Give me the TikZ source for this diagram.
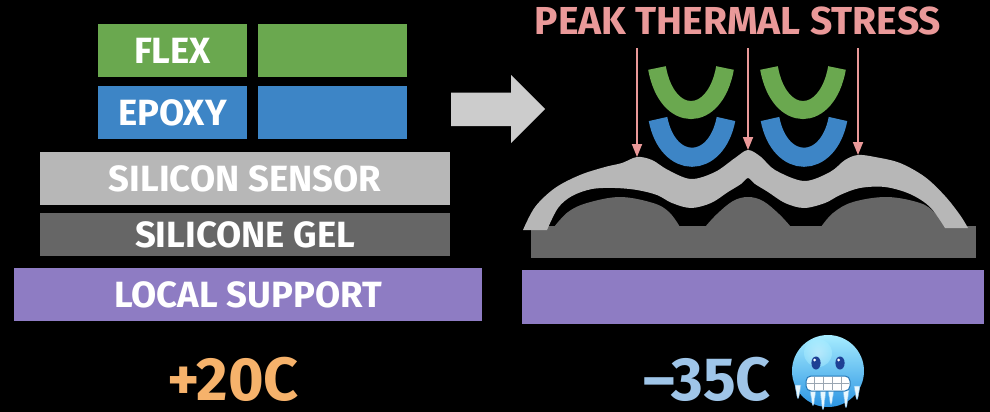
\documentclass[tikz,border=0pt]{standalone}
\usepackage{fontspec}
\setmainfont{Fira Sans}
\usetikzlibrary{arrows.meta}

\definecolor{flexgreen}{HTML}{6AA84F}
\definecolor{epoxyblue}{HTML}{3D85C6}
\definecolor{sensorgray}{HTML}{B7B7B7}
\definecolor{gelgray}{HTML}{666666}
\definecolor{supportpurple}{HTML}{8E7CC3}
\definecolor{arrowgray}{HTML}{CCCCCC}
\definecolor{stresspink}{HTML}{EA9999}
\definecolor{warmorange}{HTML}{F6B26B}
\definecolor{coldblue}{HTML}{9FC5E8}
\definecolor{facetop}{HTML}{A6ECFF}
\definecolor{facebottom}{HTML}{2C95E3}
\definecolor{eyeblue}{HTML}{1E3F94}
\definecolor{icewhite}{HTML}{E8F8FF}
\definecolor{toothline}{HTML}{9AA6B2}

\tikzset{
  layer/.style={draw=none, inner sep=0pt, text=white,
    font=\bfseries\fontsize{36.5}{36.5}\selectfont},
  stressarrow/.style={draw=stresspink, line width=1.8pt,
    -{Triangle[width=10pt,length=13pt]}},
  ucup/.style={line width=#1, line cap=butt},
  temp/.style={font=\bfseries\fontsize{61}{61}\selectfont, inner sep=0pt, anchor=base},
  icicle/.style={fill=icewhite, draw=facebottom!60, line width=0.5pt},
}

\begin{document}
\begin{tikzpicture}[x=1pt,y=-1pt]
  \fill[black] (0,0) rectangle (990,412);
  \useasboundingbox (0,0) rectangle (990,412);

  % ---------- stack at room temperature ----------
  \node[layer, fill=flexgreen, minimum width=149pt, minimum height=53pt] (flexA) at (172.5,50.5) {FLEX};
  \node[layer, fill=flexgreen, minimum width=149pt, minimum height=53pt] (flexB) at (332.5,50.5) {};
  \node[layer, fill=epoxyblue, minimum width=149pt, minimum height=53pt] (epoxyA) at (172.5,112.5) {EPOXY};
  \node[layer, fill=epoxyblue, minimum width=149pt, minimum height=53pt] (epoxyB) at (332.5,112.5) {};
  \node[layer, fill=sensorgray, minimum width=410pt, minimum height=53pt] (sensor) at (245,178.5) {SILICON SENSOR};
  \node[layer, fill=gelgray, minimum width=410pt, minimum height=43pt] (gel) at (245,234.5) {SILICONE GEL};
  \node[layer, fill=supportpurple, minimum width=468pt, minimum height=53pt] (support) at (248,294.5) {LOCAL SUPPORT};

  % ---------- block arrow ----------
  \fill[arrowgray] (451,92.5) -- (511,92.5) -- (511,75) -- (545,109) -- (511,143)
    -- (511,126) -- (451,126) -- cycle;

  % ---------- stack when cold ----------
  \node[layer, fill=supportpurple, minimum width=462pt, minimum height=54pt] (supportC) at (753,297) {};
  \node[layer, fill=gelgray, minimum width=445pt, minimum height=32pt] (gelC) at (753.5,242) {};

  % gel pushed up into bumps
  \fill[gelgray] plot[smooth, tension=0.6] coordinates {(554,227) (568,212) (587,203) (620,197) (653,203) (669,212) (680,227)} -- cycle;
  \fill[gelgray] plot[smooth, tension=0.6] coordinates {(705,227) (717,214) (733,201) (748,197) (763,201) (779,214) (791,227)} -- cycle;
  \fill[gelgray] plot[smooth, tension=0.6] coordinates {(821,227) (833,213) (853,202) (887,197) (920,203) (935,213) (945,227)} -- cycle;

  % warped sensor
  \fill[sensorgray]
    plot[smooth, tension=0.55] coordinates {(523,230) (535,207) (555,188) (580,175) (605,167) (622,163) (637,157)
      (652,160) (668,170) (691,179) (715,172) (735,158) (748,150) (761,157) (775,170) (804,181)
      (830,172) (845,160) (858,155) (875,157) (900,163) (925,177) (945,196) (960,215) (968,228)}
    -- plot[smooth, tension=0.55] coordinates {(945,228) (930,207) (910,194) (885,187) (860,188) (840,195)
      (825,203) (804,208) (785,203) (768,192) (755,184) (748,178) (741,184) (728,192) (711,203)
      (691,208) (672,203) (657,195) (637,190) (615,188) (592,189) (572,196) (558,208) (547,230)}
    -- cycle;

  % curled flex and epoxy pieces
  \draw[ucup=18pt, flexgreen] (657,68) .. controls (667,124) and (715,124) .. (725,68);
  \draw[ucup=19pt, epoxyblue] (658,119) .. controls (668,170) and (716,170) .. (726,119);
  \draw[ucup=18pt, flexgreen] (769,68) .. controls (779,124) and (827,124) .. (837,68);
  \draw[ucup=19pt, epoxyblue] (770,119) .. controls (780,170) and (828,170) .. (838,119);

  % ---------- stress label and arrows ----------
  \node[font=\bfseries\fontsize{39}{39}\selectfont, text=stresspink, inner sep=0pt, anchor=base] (stress) at (738,35) {PEAK THERMAL STRESS};
  \coordinate (sA) at (637,48);
  \coordinate (sB) at (748,48);
  \coordinate (sC) at (858,48);
  \coordinate (pA) at (637,157);
  \coordinate (pB) at (748,150);
  \coordinate (pC) at (858,155);
  \draw[stressarrow] (sA) -- (pA);
  \draw[stressarrow] (sB) -- (pB);
  \draw[stressarrow] (sC) -- (pC);

  % ---------- temperatures ----------
  \node[temp, text=warmorange] (warm) at (233,400) {+20C};
  \node[temp, text=coldblue] (cold) at (707,400) {–35C};

  % freezing face
  \begin{scope}[shift={(828,371)}]
    \shade[top color=facetop, bottom color=facebottom] (0,0) circle[radius=36pt];
    \shade[inner color=white!70!facetop, outer color=facetop, opacity=0.5] (-10,-18) circle[radius=14pt];
    % eyes
    \fill[eyeblue] (-12,-8) ellipse[x radius=4.6pt, y radius=6.5pt];
    \fill[eyeblue] (12,-8) ellipse[x radius=4.6pt, y radius=6.5pt];
    \fill[white] (-13.5,-11) circle[radius=1.5pt];
    \fill[white] (10.5,-11) circle[radius=1.5pt];
    % icicles under the teeth and along the chin
    \foreach \ix/\top/\len in {-30/14/13, -15/19/15, -5/19/19, 3/19/14, 18/19/17, 29/15/13} {
      \path[icicle] (\ix-3,\top) -- (\ix+3,\top) -- (\ix+0.6,\top+\len) -- (\ix-0.6,\top+\len) -- cycle;
    }
    % clenched teeth
    \fill[white, draw=facebottom!80!black, line width=1pt, rounded corners=5pt] (-22,5) rectangle (22,20);
    \foreach \tx in {-13.2,-4.4,4.4,13.2} \draw[toothline, line width=0.8pt] (\tx,6) -- (\tx,19);
    \draw[toothline, line width=0.8pt] (-21,12.5) -- (21,12.5);
  \end{scope}
\end{tikzpicture}
\end{document}
